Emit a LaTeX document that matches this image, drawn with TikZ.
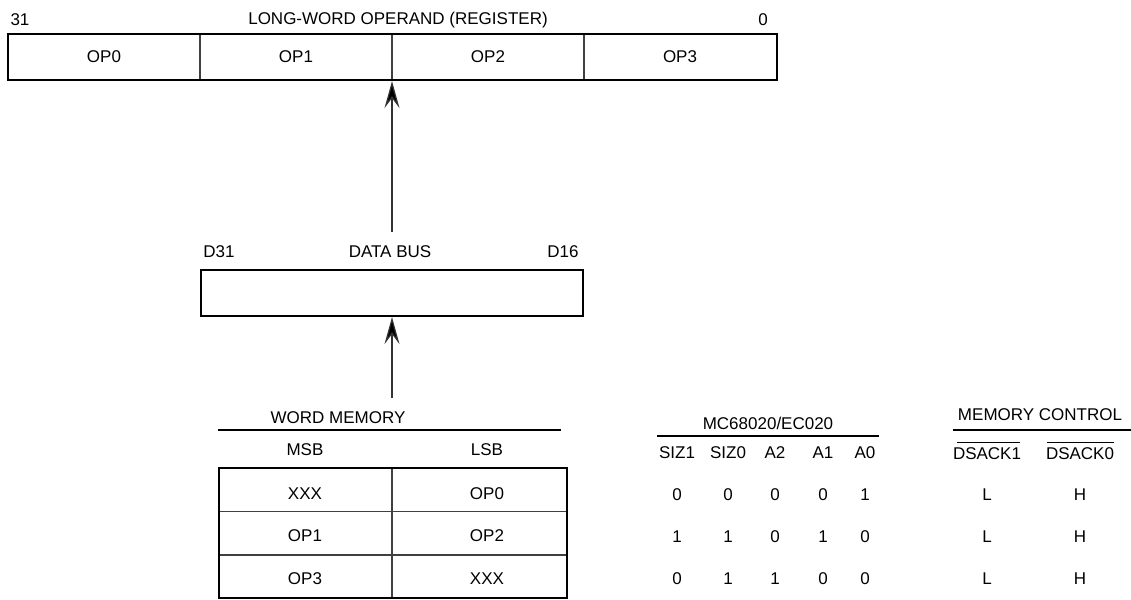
\documentclass[tikz,border=0pt]{standalone}
\usepackage{fontspec}
\setmainfont{Liberation Sans}
\usetikzlibrary{arrows.meta}
\begin{document}
\begin{tikzpicture}[x=1pt,y=-1pt,
  txt/.style={inner sep=0pt,font=\fontsize{17}{19}\selectfont},
  outer/.style={draw=black,line width=2.2pt,inner sep=0pt},
  divider/.style={draw=black!75,line width=1.2pt},
  rule/.style={draw=black,line width=1.8pt},
  ovl/.style={draw=black,line width=1pt},
  arr/.style={draw=black!80,line width=1.2pt,-{Stealth[length=27pt,width=15pt,inset=10pt,fill=black]}}]
\useasboundingbox (0,0) rectangle (1131,599);
% register
\node[txt] (l31) at (20,20) {31};
\node[txt] (lreg) at (398,20) {LONG-WORD OPERAND (REGISTER)};
\node[txt] (l0) at (763,20) {0};
\node[outer,minimum width=769pt,minimum height=46pt] (reg) at (392.5,57) {};
\draw[divider] (200,35) -- (200,79);
\draw[divider] (392,35) -- (392,79);
\draw[divider] (584,35) -- (584,79);
\node[txt] (op0) at (104,57) {OP0};
\node[txt] (op1) at (296,57) {OP1};
\node[txt] (op2) at (488,57) {OP2};
\node[txt] (op3) at (680,57) {OP3};
% data bus
\node[txt] (d31) at (219,252) {D31};
\node[txt] (dbus) at (390,252) {DATA BUS};
\node[txt] (d16) at (563,252) {D16};
\node[outer,minimum width=382pt,minimum height=46pt] (bus) at (392,293) {};
\coordinate (a1) at (392,232);
\draw[arr] (a1) -- (reg.south -| a1);
% word memory
\node[txt] (wm) at (338,418) {WORD MEMORY};
\draw[rule] (218,430) -- (561,430);
\node[txt] (msb) at (305,450) {MSB};
\node[txt] (lsb) at (487,450) {LSB};
\node[outer,minimum width=348pt,minimum height=130pt] (mem) at (393,533) {};
\draw[divider] (392,469) -- (392,597);
\draw[divider] (220,511.5) -- (566,511.5);
\draw[divider] (220,555) -- (566,555);
\coordinate (a2) at (392,398);
\draw[arr] (a2) -- (bus.south -| a2);
\node[txt] (m11) at (305,494) {XXX};
\node[txt] (m12) at (487,494) {OP0};
\node[txt] (m21) at (305,536) {OP1};
\node[txt] (m22) at (487,536) {OP2};
\node[txt] (m31) at (305,579) {OP3};
\node[txt] (m32) at (487,579) {XXX};
% MC68020 table
\node[txt] (mc) at (768,423) {MC68020/EC020};
\draw[rule] (657,436) -- (879,436);
\foreach \x/\t [count=\i] in {677/SIZ1,728/SIZ0,775/A2,823/A1,865/A0}
  \node[txt] (h\i) at (\x,453) {\t};
\foreach \x/\a/\b/\c [count=\i] in {677/0/1/0,728/0/1/1,775/0/0/1,823/0/1/0,865/1/0/0}{
  \node[txt] (ra\i) at (\x,495) {\a};
  \node[txt] (rb\i) at (\x,537) {\b};
  \node[txt] (rc\i) at (\x,579) {\c};
}
% memory control
\node[txt] (memc) at (1040,415) {MEMORY CONTROL};
\draw[rule] (953,430) -- (1131,430);
\node[txt] (ds1) at (987,454) {DSACK1};
\node[txt] (ds0) at (1080,454) {DSACK0};
\draw[ovl] (957,442) -- (1020,442);
\draw[ovl] (1047,442) -- (1114,442);
\foreach \y [count=\i] in {495,537,579}{
  \node[txt] (lL\i) at (987,\y) {L};
  \node[txt] (lH\i) at (1080,\y) {H};
}
\end{tikzpicture}
\end{document}
